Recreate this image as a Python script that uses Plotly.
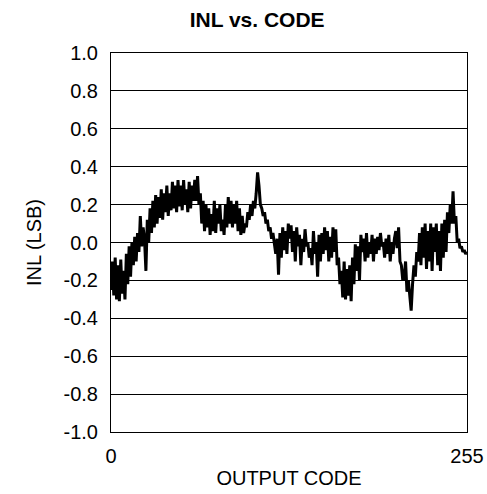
import plotly.graph_objects as go

# INL (LSB) for output codes 0..255
codes = list(range(256))
inl = [
    -0.25, -0.10, -0.28, -0.08, -0.30, -0.12, -0.31, -0.09, -0.27, -0.15,
    -0.30, -0.06, -0.22, -0.02, -0.18, 0.00, -0.12, 0.03, -0.10, 0.05,
    -0.05, 0.14, -0.02, 0.08, 0.02, -0.15, 0.12, 0.00, 0.18, 0.05,
    0.22, 0.08, 0.25, 0.10, 0.24, 0.13, 0.28, 0.12, 0.26, 0.16,
    0.30, 0.14, 0.26, 0.17, 0.32, 0.18, 0.30, 0.16, 0.33, 0.19,
    0.30, 0.17, 0.33, 0.20, 0.28, 0.16, 0.32, 0.18, 0.30, 0.22,
    0.33, 0.22, 0.35, 0.20, 0.26, 0.10, 0.22, 0.06, 0.20, 0.08,
    0.18, 0.04, 0.15, 0.06, 0.22, 0.05, 0.18, 0.10, 0.20, 0.06,
    0.12, 0.04, 0.20, 0.08, 0.24, 0.10, 0.22, 0.08, 0.20, 0.10,
    0.22, 0.06, 0.18, 0.04, 0.14, 0.05, 0.10, 0.08, 0.16, 0.12,
    0.20, 0.14, 0.22, 0.18, 0.26, 0.37, 0.30, 0.20, 0.18, 0.14,
    0.16, 0.10, 0.12, 0.06, 0.08, 0.02, 0.05, -0.02, -0.06, 0.02,
    -0.17, 0.05, -0.08, 0.08, -0.04, 0.06, -0.06, 0.10, 0.02, 0.09,
    -0.05, 0.06, -0.10, 0.08, -0.02, 0.04, -0.12, 0.02, -0.05, 0.07,
    -0.02, 0.00, -0.08, -0.03, -0.12, 0.06, -0.06, 0.00, -0.18, 0.04,
    -0.10, 0.05, -0.06, 0.08, -0.04, 0.06, -0.10, 0.03, -0.08, 0.08,
    -0.05, 0.07, -0.12, -0.08, -0.22, -0.15, -0.29, -0.10, -0.30, -0.14,
    -0.28, -0.12, -0.31, -0.08, -0.22, -0.01, -0.15, -0.02, -0.20, 0.04,
    -0.05, 0.02, -0.10, 0.05, -0.08, 0.00, -0.06, 0.04, -0.10, 0.02,
    -0.06, 0.03, -0.04, 0.05, -0.02, 0.00, -0.08, 0.02, -0.06, 0.04,
    -0.10, 0.00, -0.06, 0.02, 0.06, -0.03, 0.08, -0.10, -0.12, -0.20,
    -0.18, -0.10, -0.26, -0.20, -0.30, -0.36, -0.22, -0.12, -0.18, -0.05,
    -0.10, 0.05, -0.12, 0.08, -0.08, 0.10, -0.14, 0.06, -0.10, 0.10,
    -0.15, 0.08, -0.05, 0.10, -0.12, 0.06, -0.15, 0.10, -0.08, 0.12,
    -0.05, 0.16, 0.05, 0.20, 0.10, 0.27, 0.10, 0.14, 0.00, 0.02,
    -0.03, -0.02, -0.05, -0.04, -0.06, -0.05,
]

x_tickvals = [0, 255]
x_ticktext = ["0", "255"]
y_tickvals = [-1.0, -0.8, -0.6, -0.4, -0.2, 0.0, 0.2, 0.4, 0.6, 0.8, 1.0]
y_ticktext = ["-1.0", "-0.8", "-0.6", "-0.4", "-0.2", "0.0", "0.2", "0.4", "0.6", "0.8", "1.0"]

FONT = "Arial, Liberation Sans, sans-serif"

fig = go.Figure()
fig.add_trace(go.Scatter(
    x=codes, y=inl, mode="lines",
    line=dict(color="black", width=3),
    showlegend=False,
))

fig.update_layout(
    width=487, height=494,
    margin=dict(l=111, r=20, t=53, b=62, autoexpand=False),
    paper_bgcolor="white", plot_bgcolor="white",
    font=dict(family=FONT, size=20, color="black"),
    title=dict(text="<b>INL vs. CODE</b>", x=0.528, xanchor="center",
               y=1 - 20 / 494, yanchor="middle", font=dict(family=FONT, size=21, color="black")),
    xaxis=dict(
        range=[0, 255], tickvals=x_tickvals, ticktext=x_ticktext,
        showgrid=False, zeroline=False, automargin=False,
        showline=True, linecolor="black", linewidth=1, mirror=True,
        ticks="", ticklabelstandoff=6,
        title=dict(text="OUTPUT CODE", standoff=4, font=dict(family=FONT, size=20)),
        tickfont=dict(family=FONT, size=20),
    ),
    yaxis=dict(
        range=[-1, 1], tickvals=y_tickvals, ticktext=y_ticktext,
        showgrid=True, gridcolor="black", gridwidth=1, zeroline=False, automargin=False,
        showline=True, linecolor="black", linewidth=1, mirror=True,
        ticks="", ticklabelstandoff=8,
        title=dict(text="INL (LSB)", standoff=16, font=dict(family=FONT, size=20)),
        tickfont=dict(family=FONT, size=20),
    ),
)

# remove the default page margin so the figure sits at the window's origin
fig.write_html(
    "out.html",
    config={"displayModeBar": False},
    post_script="document.body.style.margin='0px';document.body.style.overflow='hidden';",
)
